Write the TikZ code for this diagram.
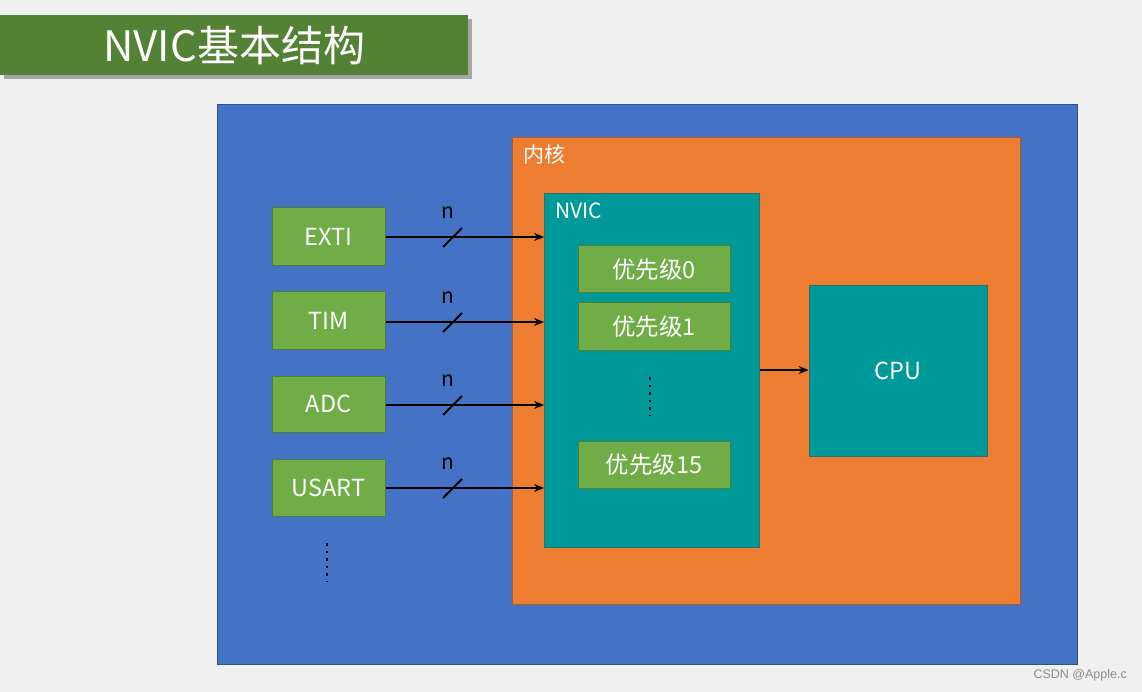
\documentclass[tikz,border=0pt]{standalone}
\usepackage{fontspec}
\setmainfont{Noto Sans CJK SC}
\newfontfamily\wmfont{Liberation Sans}
\usetikzlibrary{arrows.meta}
\definecolor{bgc}{HTML}{F0F0F0}
\definecolor{titlec}{HTML}{548235}
\definecolor{bluec}{HTML}{4472C4}
\definecolor{blueb}{HTML}{2F528F}
\definecolor{orangec}{HTML}{ED7D31}
\definecolor{orangeb}{HTML}{AE5A21}
\definecolor{tealc}{HTML}{009999}
\definecolor{tealb}{HTML}{2F6F6F}
\definecolor{greenc}{HTML}{70AD47}
\definecolor{greenb}{HTML}{507E32}
\definecolor{wmc}{HTML}{8C8C8C}
\tikzset{
  gbox/.style={draw=greenb, line width=1pt, fill=greenc, text=white, font=\fontsize{23.5}{25}\selectfont, inner sep=0pt},
  sig/.style={line width=2.4pt, -{Stealth[length=10pt,width=8pt]}},
  slash/.style={line width=1.8pt},
  nlab/.style={font=\fontsize{21}{22}\selectfont, text=black, inner sep=0pt},
  dotcol/.style={line width=2.6pt, dash pattern=on 2.6pt off 4.9pt}
}
\begin{document}
\begin{tikzpicture}[x=1pt,y=-1pt]
\fill[bgc] (0,0) rectangle (1142,692);
\useasboundingbox (0,0) rectangle (1142,692);
% title
\fill[black!35] (4,19) rectangle (472,79);
\node[fill=titlec, minimum width=468pt, minimum height=60pt, inner sep=0pt, anchor=north west, text=white, font=\fontsize{42}{44}\selectfont] (title) at (0,15) {NVIC基本结构};
% containers
\draw[fill=bluec, draw=blueb, line width=1pt] (217,105) rectangle (1077,664);
\draw[fill=orangec, draw=orangeb, line width=1pt] (512,138) rectangle (1020,604);
\node[anchor=west, text=white, font=\fontsize{21}{22}\selectfont, inner sep=0pt] (core) at (523,155) {内核};
\node[draw=tealb, line width=0.8pt, fill=tealc, minimum width=215pt, minimum height=354pt, inner sep=0pt, anchor=north west] (nvic) at (544,193) {};
\node[anchor=west, text=white, font=\fontsize{21}{22}\selectfont, inner sep=0pt] (nviclab) at (555,211) {NVIC};
% priorities
\node[gbox, minimum width=152pt, minimum height=47pt] (p0) at (654,269.5) {优先级0};
\node[gbox, minimum width=152pt, minimum height=47pt] (p1) at (654,326.5) {优先级1};
\node[gbox, minimum width=152pt, minimum height=47pt] (p15) at (654,464.5) {优先级15};
\coordinate (pd1) at (650,377);
\coordinate (pd2) at (650,416);
\draw[dotcol] (pd1) -- (pd2);
% CPU
\node[draw=tealb, line width=0.8pt, fill=tealc, minimum width=178pt, minimum height=171pt, inner sep=0pt, text=white, font=\fontsize{23.5}{25}\selectfont] (cpu) at (898,370.5) {CPU};
% sources
\node[gbox, minimum width=113pt, minimum height=58pt] (exti) at (328.5,237) {EXTI};
\node[gbox, minimum width=113pt, minimum height=57pt] (tim) at (328.5,320.5) {TIM};
\node[gbox, minimum width=113pt, minimum height=56pt] (adc) at (328.5,404) {ADC};
\node[gbox, minimum width=113pt, minimum height=57pt] (usart) at (328.5,487.5) {USART};
\coordinate (sd1) at (327,543);
\coordinate (sd2) at (327,582);
\draw[dotcol] (sd1) -- (sd2);
% arrows
\foreach \s/\y/\k in {exti/237/1, tim/322/2, adc/405/3, usart/488/4}{
  \draw[sig] (\s.east |- 0,\y) -- (nvic.west |- 0,\y);
  \draw[slash] (443,\y+10) -- (462,\y-9);
  \node[nlab] (n\k) at (448,\y-24) {n};
}
\draw[sig] (nvic.east |- 0,370) -- (cpu.west |- 0,370);
% watermark
\node[anchor=east, text=wmc, font=\fontsize{12.5}{14}\selectfont\wmfont, inner sep=0pt] (wm) at (1127,675) {CSDN @Apple.c};
\end{tikzpicture}
\end{document}
